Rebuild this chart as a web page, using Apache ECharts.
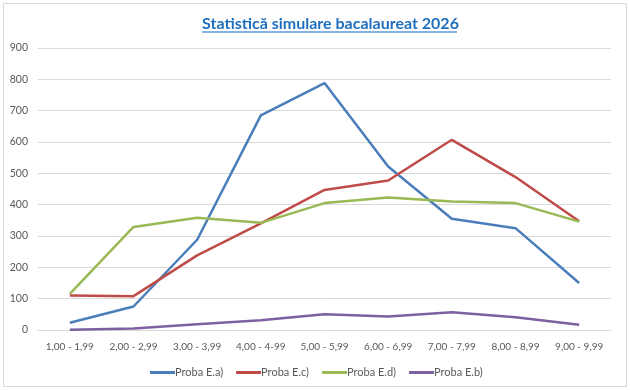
<!DOCTYPE html>
<html>
<head>
<meta charset="utf-8">
<script src="https://cdn.jsdelivr.net/npm/echarts@6/dist/echarts.min.js"></script>
<style>html,body{margin:0;padding:0;background:#fff}#c{width:630px;height:390px}</style>
</head>
<body>
<div id="c"></div>
<script>
const categories = ['1,00 - 1,99','2,00 - 2,99','3,00 - 3,99','4,00 - 4-99','5,00 - 5,99','6,00 - 6,99','7,00 - 7,99','8,00 - 8,99','9,00 - 9,99'];
const probaEa = [23, 75, 288, 685, 788, 522, 355, 325, 150];
const probaEc = [110, 108, 238, 340, 447, 477, 607, 488, 347];
const probaEd = [115, 329, 358, 342, 405, 423, 410, 405, 346];
const probaEb = [1, 5, 18, 31, 50, 43, 57, 41, 17];
const seriesNames = ['Proba E.a)', 'Proba E.c)', 'Proba E.d)', 'Proba E.b)'];
const titleText = 'Statistică simulare bacalaureat 2026';

const FONT = 'Lato, "Open Sans", sans-serif';
const colors = ['#4A7EBB', '#BE4B48', '#98B954', '#7D60A0'];
const chart = echarts.init(document.getElementById('c'));
const mk = (name, data, i) => ({
  name, type: 'line', data, symbol: 'none', smooth: false,
  lineStyle: { width: 2.5, color: colors[i] }, itemStyle: { color: colors[i] }
});
chart.setOption({
  animation: false,
  title: {
    text: titleText, left: 197, top: 11,
    textStyle: { fontFamily: 'Lato, sans-serif', fontWeight: 'bold', fontSize: 16, color: '#1F6FBF' }
  },
  graphic: [
    { type: 'rect', shape: { x: 3.5, y: 3.5, width: 623, height: 383 }, style: { fill: 'none', stroke: '#D9D9D9', lineWidth: 1 }, silent: true },
    { type: 'line', shape: { x1: 202, y1: 32, x2: 457, y2: 32 }, style: { stroke: '#5B9BD5', lineWidth: 1.5 }, silent: true }
  ],
  grid: { left: 38, right: 19, top: 48, bottom: 60 },
  legend: {
    top: 362, left: 145, itemWidth: 25, itemHeight: 3, itemGap: 13,
    icon: 'rect',
    textStyle: { fontFamily: FONT, fontSize: 11, color: '#595959', padding: [0, 0, 0, -5] },
    data: seriesNames
  },
  xAxis: {
    type: 'category', data: categories, boundaryGap: true,
    axisLine: { lineStyle: { color: '#D9D9D9', width: 1 } },
    axisTick: { show: false },
    axisLabel: { fontFamily: FONT, fontSize: 10, color: '#595959', margin: 12, interval: 0 }
  },
  yAxis: {
    type: 'value', min: 0, max: 900, interval: 100,
    axisLine: { show: false }, axisTick: { show: false },
    axisLabel: { fontFamily: FONT, fontSize: 10.5, color: '#595959', margin: 10 },
    splitLine: { lineStyle: { color: '#D9D9D9', width: 1 } }
  },
  series: [mk(seriesNames[0], probaEa, 0), mk(seriesNames[1], probaEc, 1), mk(seriesNames[2], probaEd, 2), mk(seriesNames[3], probaEb, 3)]
});
</script>
</body>
</html>
